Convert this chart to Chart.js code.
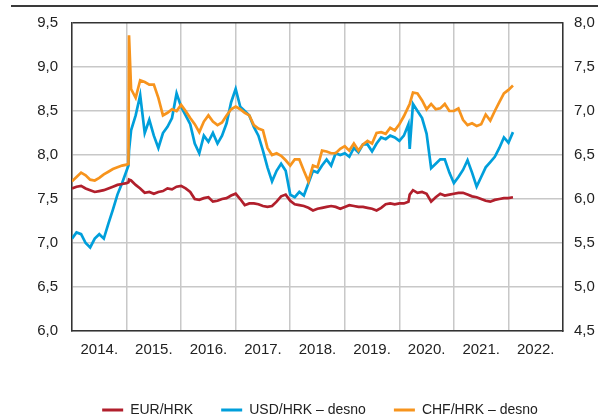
<!DOCTYPE html>
<html><head><meta charset="utf-8">
<script src="https://cdn.jsdelivr.net/npm/chart.js@4.4.1/dist/chart.umd.min.js"></script>
<style>
html,body{margin:0;padding:0;background:#fff;}
#wrap{position:relative;width:598px;height:419px;overflow:hidden;}
#topline{position:absolute;left:11px;top:5px;width:587px;height:2px;background:#3a3a3a;}
canvas{position:absolute;left:0;top:0;}
</style></head><body>
<div id="wrap"><div id="topline"></div><canvas id="c" width="598" height="419"></canvas></div>
<script>
// decimal years (monthly, plus a few extra days around Jan 2015 and Mar 2020)
const dates = [
2014.000,2014.083,2014.167,2014.250,2014.333,2014.417,2014.500,2014.583,2014.667,2014.750,2014.833,2014.917,
2015.000,2015.035,2015.045,2015.083,2015.167,2015.250,2015.333,2015.417,2015.500,2015.583,2015.667,2015.750,2015.833,2015.917,
2016.000,2016.083,2016.167,2016.250,2016.333,2016.417,2016.500,2016.583,2016.667,2016.750,2016.833,2016.917,
2017.000,2017.083,2017.167,2017.250,2017.333,2017.417,2017.500,2017.583,2017.667,2017.750,2017.833,2017.917,
2018.000,2018.083,2018.167,2018.250,2018.333,2018.417,2018.500,2018.583,2018.667,2018.750,2018.833,2018.917,
2019.000,2019.083,2019.167,2019.250,2019.333,2019.417,2019.500,2019.583,2019.667,2019.750,2019.833,2019.917,
2020.000,2020.083,2020.167,2020.190,2020.250,2020.333,2020.417,2020.500,2020.583,2020.667,2020.750,2020.833,2020.917,
2021.000,2021.083,2021.167,2021.250,2021.333,2021.417,2021.500,2021.583,2021.667,2021.750,2021.833,2021.917,
2022.000,2022.083
];
// EUR/HRK (left axis)
const eurHrk = [
7.62,7.64,7.65,7.62,7.60,7.58,7.59,7.60,7.62,7.64,7.66,7.67,
7.68,7.69,7.72,7.71,7.66,7.62,7.57,7.58,7.56,7.58,7.59,7.62,7.61,7.64,
7.65,7.62,7.58,7.50,7.49,7.51,7.52,7.47,7.48,7.50,7.51,7.54,
7.56,7.50,7.43,7.45,7.45,7.44,7.42,7.41,7.42,7.47,7.53,7.55,
7.48,7.44,7.43,7.42,7.40,7.37,7.39,7.40,7.41,7.42,7.41,7.39,
7.41,7.43,7.42,7.41,7.41,7.40,7.39,7.37,7.40,7.44,7.45,7.44,
7.45,7.45,7.47,7.55,7.60,7.57,7.58,7.56,7.47,7.52,7.56,7.54,7.55,
7.56,7.57,7.57,7.55,7.53,7.52,7.50,7.48,7.47,7.49,7.50,7.51,
7.51,7.52
];
// USD/HRK (right axis)
const usdHrk = [
5.55,5.62,5.60,5.50,5.45,5.55,5.60,5.55,5.72,5.88,6.05,6.18,
6.32,6.38,6.55,6.78,6.95,7.18,6.75,6.90,6.72,6.58,6.75,6.82,6.92,7.20,
7.05,6.95,6.85,6.63,6.52,6.72,6.65,6.75,6.63,6.72,6.86,7.10,
7.25,7.05,7.00,6.95,6.82,6.72,6.55,6.36,6.20,6.32,6.40,6.32,
6.05,6.02,6.08,6.04,6.18,6.32,6.30,6.38,6.45,6.38,6.52,6.50,
6.52,6.48,6.58,6.53,6.62,6.62,6.54,6.63,6.70,6.68,6.72,6.70,
6.66,6.72,6.85,6.57,7.08,7.00,6.92,6.74,6.35,6.40,6.45,6.45,6.30,
6.18,6.25,6.33,6.44,6.30,6.14,6.25,6.36,6.42,6.48,6.58,6.70,
6.64,6.76
];
// CHF/HRK (right axis)
const chfHrk = [
6.20,6.25,6.30,6.27,6.22,6.21,6.24,6.28,6.31,6.34,6.36,6.38,
6.39,6.40,7.86,7.25,7.15,7.35,7.33,7.30,7.30,7.15,6.95,6.98,7.02,7.00,
7.07,7.00,6.92,6.85,6.76,6.88,6.95,6.88,6.84,6.87,6.95,7.02,
7.05,7.02,6.98,6.95,6.84,6.80,6.78,6.58,6.50,6.52,6.49,6.44,
6.38,6.45,6.45,6.32,6.20,6.38,6.36,6.55,6.54,6.52,6.52,6.57,
6.60,6.55,6.63,6.55,6.62,6.66,6.63,6.75,6.76,6.74,6.81,6.78,
6.85,6.94,7.05,7.08,7.21,7.20,7.12,7.02,7.08,7.02,7.03,7.08,7.00,
7.00,7.03,6.90,6.84,6.86,6.83,6.85,6.96,6.89,7.00,7.10,7.20,
7.24,7.29
];
const seriesNames = ['EUR/HRK', 'USD/HRK \u2013 desno', 'CHF/HRK \u2013 desno'];
const seriesColors = ['#B11F2C', '#009FDB', '#F7941D'];
const leftRange = [6.0, 9.5];
const rightRange = [4.5, 8.0];
const yearRange = [2014, 2023];

const FONT = "'Liberation Sans', Arial, sans-serif";
const toPts = arr => dates.map((d, i) => ({x: d, y: arr[i]}));
const fmt = v => Number(v).toFixed(1).replace('.', ',');

const legendShift = {
  id: 'legendShift',
  afterLayout(chart) {
    const lg = chart.legend;
    if (lg) { lg.top += 8; lg.bottom += 8; lg.left += 21; lg.right += 21; }
  }
};

new Chart(document.getElementById('c'), {
  type: 'line',
  data: {
    datasets: [
      {label: seriesNames[0], data: toPts(eurHrk), yAxisID: 'y', borderColor: seriesColors[0], backgroundColor: seriesColors[0], order: 0},
      {label: seriesNames[1], data: toPts(usdHrk), yAxisID: 'y1', borderColor: seriesColors[1], backgroundColor: seriesColors[1], order: 2},
      {label: seriesNames[2], data: toPts(chfHrk), yAxisID: 'y1', borderColor: seriesColors[2], backgroundColor: seriesColors[2], order: 1}
    ]
  },
  options: {
    responsive: false,
    animation: false,
    events: [],
    elements: {
      line: {borderWidth: 2.7, tension: 0},
      point: {radius: 0}
    },
    layout: {padding: {left: 0, right: 0, top: 22, bottom: 0}},
    scales: {
      x: {
        type: 'linear', min: yearRange[0], max: yearRange[1],
        grid: {color: '#c8c8c8', lineWidth: 1.5, drawTicks: false},
        border: {color: '#333', width: 1.5},
        ticks: {
          stepSize: 1, autoSkip: false, maxRotation: 0, labelOffset: 27.3, padding: 10,
          color: '#222', font: {family: FONT, size: 15},
          callback: v => (v < yearRange[1] ? v + '.' : '')
        },
        afterFit: s => { s.height = 36; }
      },
      y: {
        type: 'linear', position: 'left', min: leftRange[0], max: leftRange[1],
        grid: {
          drawTicks: false, lineWidth: 1.5,
          color: c => (c.tick && c.tick.value === leftRange[1] ? '#333' : '#c8c8c8')
        },
        border: {color: '#333', width: 1.5},
        ticks: {stepSize: 0.5, padding: 14, color: '#222', font: {family: FONT, size: 15}, callback: fmt},
        afterFit: s => { s.width = 72; }
      },
      y1: {
        type: 'linear', position: 'right', min: rightRange[0], max: rightRange[1],
        grid: {display: false, drawTicks: false},
        border: {color: '#333', width: 1.5},
        ticks: {stepSize: 0.5, padding: 11, color: '#222', font: {family: FONT, size: 15}, callback: fmt},
        afterFit: s => { s.width = 35; }
      }
    },
    plugins: {
      tooltip: {enabled: false},
      legend: {
        position: 'bottom',
        labels: {
          boxWidth: 21, boxHeight: 3, padding: 28, color: '#222',
          font: {family: FONT, size: 14},
          sort: (a, b) => a.datasetIndex - b.datasetIndex,
          generateLabels: chart => Chart.defaults.plugins.legend.labels.generateLabels(chart).map(l => Object.assign(l, {lineWidth: 0}))
        }
      }
    }
  },
  plugins: [legendShift]
});
</script>
</body></html>
